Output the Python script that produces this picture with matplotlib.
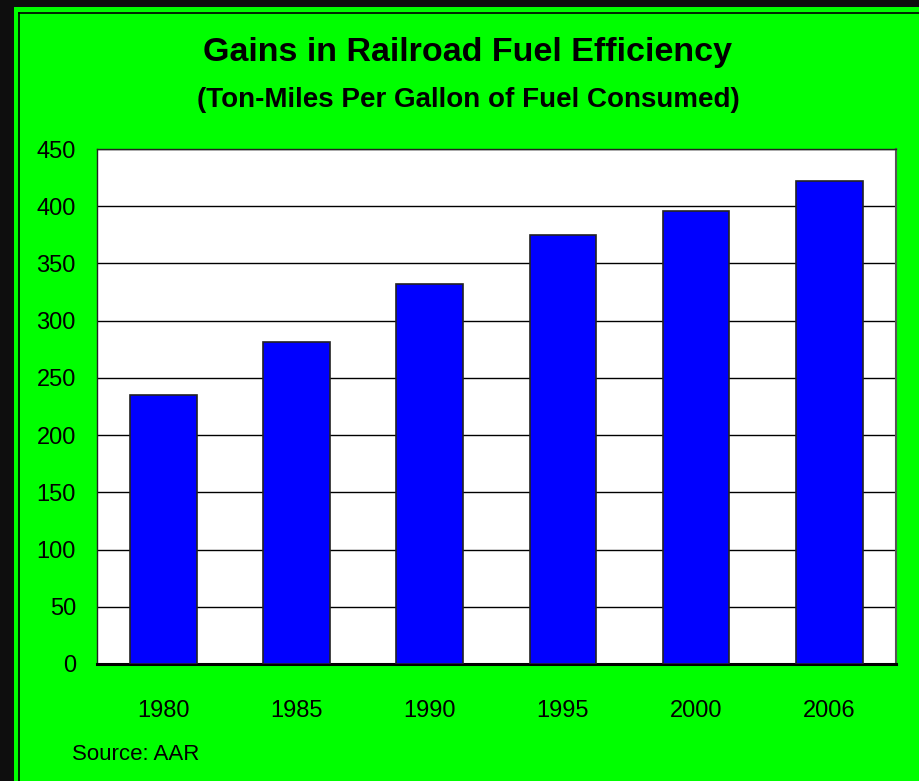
"""Gains in railroad fuel efficiency, ton-miles per gallon (AAR)."""

import matplotlib
matplotlib.use("Agg")
import matplotlib.pyplot as plt
from matplotlib.patches import Rectangle
from matplotlib.lines import Line2D

plt.rcParams["font.family"] = ["Liberation Sans", "DejaVu Sans"]

YEARS = ["1980", "1985", "1990", "1995", "2000", "2006"]
TON_MILES_PER_GALLON = [235, 281, 332, 375, 396, 422]
Y_TICKS = [0, 50, 100, 150, 200, 250, 300, 350, 400, 450]

W, H = 920, 781
fig = plt.figure(figsize=(W / 100, H / 100), dpi=100)
fig.patch.set_facecolor("#0e0e0e")

# green panel with a thin black rule along its top and left
fig.patches.append(Rectangle((14 / W, 0), 1 - 14 / W, 1 - 7 / H,
                             transform=fig.transFigure, facecolor="#00ff00",
                             edgecolor="none", zorder=-10))
fig.lines.append(Line2D([19.5 / W, 19.5 / W], [0, 1 - 13 / H],
                        transform=fig.transFigure, color="black", lw=1.2, zorder=-5))
fig.lines.append(Line2D([19.5 / W, 1], [1 - 13 / H, 1 - 13 / H],
                        transform=fig.transFigure, color="black", lw=1.2, zorder=-5))

ax = fig.add_axes([96.7 / W, 117 / H, 799.3 / W, 515 / H])
ax.set_zorder(1)
ax.set_facecolor("white")
x = range(len(YEARS))
ax.bar(x, TON_MILES_PER_GALLON, width=0.5, color="#0000ff",
       edgecolor="#222222", linewidth=1.2, zorder=3)
ax.set_xlim(-0.5, len(YEARS) - 0.5)
ax.set_ylim(0, 450)
ax.set_yticks(Y_TICKS)
ax.set_xticks(list(x))
ax.set_xticklabels(YEARS)
ax.yaxis.grid(True, color="black", linewidth=1.0, zorder=1)
ax.set_axisbelow(True)
ax.tick_params(axis="y", length=0, pad=15, labelsize=17)
ax.tick_params(axis="x", length=0, pad=26, labelsize=17)

for side in ["top", "left"]:
    ax.spines[side].set_color("#222222")
    ax.spines[side].set_linewidth(1.0)
ax.spines["right"].set_color("#555555")
ax.spines["right"].set_linewidth(1.5)
ax.spines["bottom"].set_color("black")
ax.spines["bottom"].set_linewidth(2.2)

fig.text(468 / W, 1 - 53 / H, "Gains in Railroad Fuel Efficiency",
         ha="center", va="center", fontsize=24.5, fontweight="bold")
fig.text(468 / W, 1 - 100 / H, "(Ton-Miles Per Gallon of Fuel Consumed)",
         ha="center", va="center", fontsize=20, fontweight="bold")
fig.text(72 / W, 1 - 755 / H, "Source: AAR", ha="left", va="center", fontsize=16)

fig.savefig("out.png", dpi=100, facecolor=fig.get_facecolor())
